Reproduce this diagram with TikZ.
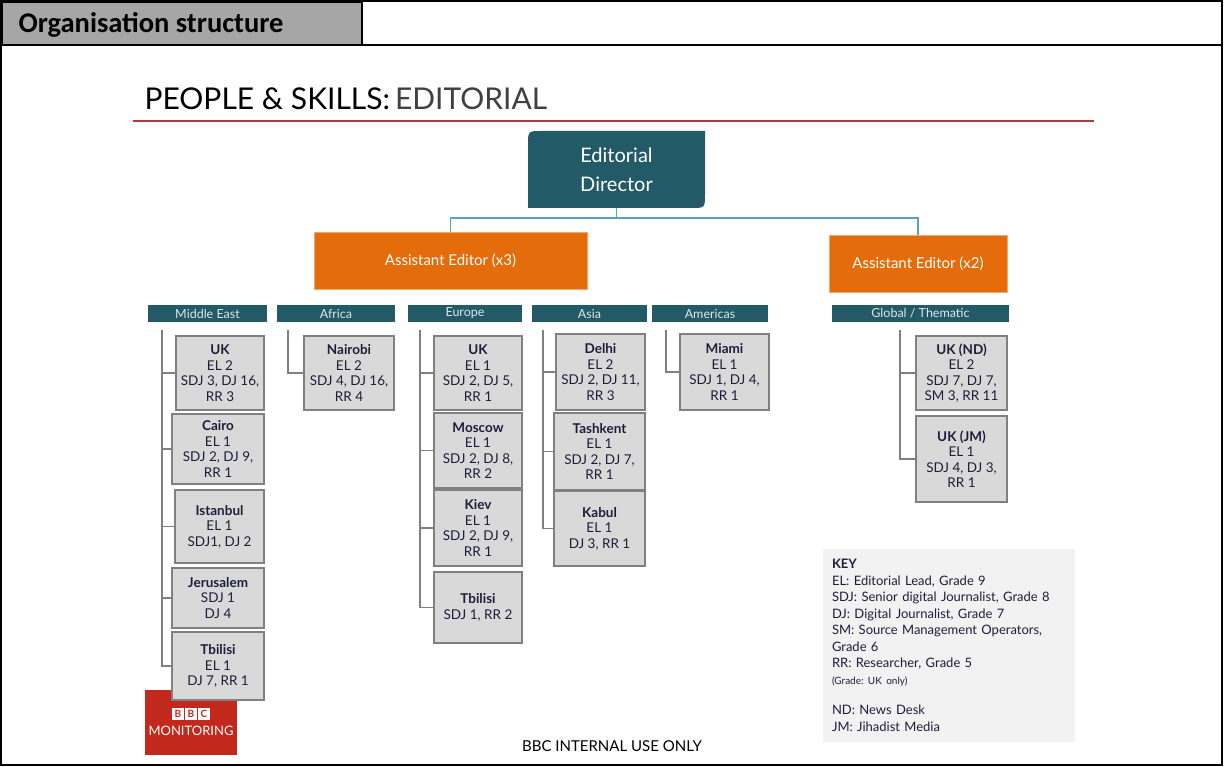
\documentclass[tikz,border=0pt]{standalone}
\usepackage{fontspec}
\setmainfont{Lato}
\newfontfamily\calibri{Carlito}
\usetikzlibrary{calc}
\frenchspacing

\definecolor{dirTeal}{HTML}{235A68}
\definecolor{linkBlue}{HTML}{5BA3BB}
\definecolor{aeOrange}{HTML}{E46C0A}
\definecolor{boxGray}{HTML}{D9D9D9}
\definecolor{boxEdge}{HTML}{808080}
\definecolor{keyGray}{HTML}{F2F2F2}
\definecolor{titleRed}{HTML}{B03A3A}
\definecolor{bbcRed}{HTML}{C2281B}
\definecolor{headGray}{HTML}{A6A6A6}
\definecolor{inkNavy}{HTML}{1E1E3A}

\begin{document}
\begin{tikzpicture}
[x=1pt,y=-1pt,
  dirDecorate/.style={minimum width=177pt,minimum height=77pt,align=center,text=white,font=\fontsize{20}{29}\selectfont},
  aeDecorate/.style={fill=aeOrange,draw=aeOrange!60,text=white,font=\fontsize{15}{18}\selectfont},
  regionDecorate/.style={fill=dirTeal,text=white!85!dirTeal,minimum height=17pt,inner sep=0pt,font=\fontsize{12.5}{14}\selectfont},
  officeDecorate/.style={fill=boxGray,draw=boxEdge,line width=1.5pt,align=center,inner sep=0pt,text=inkNavy,font=\fontsize{13.5}{15.5}\selectfont},
  linkDecorate/.style={draw=linkBlue,line width=1.6pt},
  trunkDecorate/.style={draw=boxEdge,line width=1.3pt}]

\useasboundingbox (0,0) rectangle (1224,767);

%% page frame and header row
\draw[fill=headGray,line width=1.5pt] (2,2) rectangle (362,45);
\draw[line width=1.5pt] (1,1) rectangle (1222,765);
\draw[line width=1.5pt] (1,45) -- (1222,45);
\node (heading) at (15,25) [anchor=west,font=\calibri\bfseries\fontsize{28.5}{32}\selectfont] {Organisation structure};

%% title and rule
\node (title) at (141,110) [anchor=base west,font=\fontsize{30}{34}\selectfont] {PEOPLE \& SKILLS:\,{\color{black!75}EDITORIAL}};
\draw[titleRed,line width=1.5pt] (133,121) -- (1094,121);

%% director and assistant editors
\fill[dirTeal] (528,208) -- (528,145) .. controls (528,131) .. (542,131) -- (705,131)
  -- (705,194) .. controls (705,208) .. (691,208) -- cycle;
\node (dir) at (616.5,169.5) [dirDecorate] {Editorial\\Director};
\node (aeLeft) at (450.5,260.5) [aeDecorate,minimum width=273pt,minimum height=57pt] {Assistant Editor (x3)};
\node (aeRight) at (918,263.5) [aeDecorate,minimum width=178pt,minimum height=57pt] {Assistant Editor (x2)};
\draw[linkDecorate] (dir.south) -- ++(0,10) coordinate (fork);
\draw[linkDecorate] (fork) -| (aeLeft.north);
\draw[linkDecorate] (fork) -| (aeRight.north);

%% region headers and trunk tops
\foreach \name/\x/\w/\trunk/\label in {
  mideast/207.5/119/162/Middle East, africa/336/118/288/Africa,
  europe/465/114/420/Europe, asia/589.5/115/543/Asia,
  americas/710/116/666/Americas, global/920.5/177/900/{Global / Thematic}}
{
  \node (\name) at (\x,313.5) [regionDecorate,minimum width=\w pt] {\label};
  \coordinate (\name Trunk) at (\trunk,330);
}

%% logo sits under the last office box
\node (bbcLogo) at (191,722.5) [fill=bbcRed,minimum width=92pt,minimum height=65pt] {};
\foreach \letter/\x [count=\i] in {B/178, B/191, C/204}
{
  \node (bbcBlock\i) at (\x,714) [fill=white,text=bbcRed,minimum size=12pt,inner sep=0pt,font=\bfseries\fontsize{10}{10}\selectfont] {\letter};
}
\node (bbcText) at (191,731) [text=white,font=\fontsize{13}{14}\selectfont] {MONITORING};

%% offices
\foreach \name/\trunk/\x/\y/\w/\h/\text in {
  meUK/mideast/220/373/88/74/{\textbf{UK}\\EL 2\\SDJ 3, DJ 16,\\RR 3},
  meCairo/mideast/218/449/92/70/{\textbf{Cairo}\\EL 1\\SDJ 2, DJ 9,\\RR 1},
  meIstanbul/mideast/219.5/526.5/89/73/{\textbf{Istanbul}\\EL 1\\SDJ1, DJ 2},
  meJerusalem/mideast/218/598/92/60/{\textbf{Jerusalem}\\SDJ 1\\DJ 4},
  meTbilisi/mideast/218/666/92/68/{\textbf{Tbilisi}\\EL 1\\DJ 7, RR 1},
  afNairobi/africa/349/373/90/74/{\textbf{Nairobi}\\EL 2\\SDJ 4, DJ 16,\\RR 4},
  euUK/europe/478/373/88/74/{\textbf{UK}\\EL 1\\SDJ 2, DJ 5,\\RR 1},
  euMoscow/europe/478/450.5/88/75/{\textbf{Moscow}\\EL 1\\SDJ 2, DJ 8,\\RR 2},
  euKiev/europe/478/528/88/76/{\textbf{Kiev}\\EL 1\\SDJ 2, DJ 9,\\RR 1},
  euTbilisi/europe/478/607.5/88/71/{\textbf{Tbilisi}\\SDJ 1, RR 2},
  asDelhi/asia/600.5/372/89/76/{\textbf{Delhi}\\EL 2\\SDJ 2, DJ 11,\\RR 3},
  asTashkent/asia/599.5/451.5/91/77/{\textbf{Tashkent}\\EL 1\\SDJ 2, DJ 7,\\RR 1},
  asKabul/asia/599.5/528.5/91/75/{\textbf{Kabul}\\EL 1\\DJ 3, RR 1},
  amMiami/americas/724.5/372/89/76/{\textbf{Miami}\\EL 1\\SDJ 1, DJ 4,\\RR 1},
  glND/global/961.5/373/91/74/{\textbf{UK (ND)}\\EL 2\\SDJ 7, DJ 7,\\SM 3, RR 11},
  glJM/global/961.5/459/91/86/{\textbf{UK (JM)}\\EL 1\\SDJ 4, DJ 3,\\RR 1}}
{
  \node (\name) at (\x,\y) [officeDecorate,minimum width=\w pt,minimum height=\h pt] {\text};
  \draw[trunkDecorate] (\trunk Trunk) |- (\name.west);
}

%% key and footer
\node (key) at (949,645.5) [fill=keyGray,minimum width=252pt,minimum height=193pt,text width=234pt,align=left,text=inkNavy,font=\fontsize{13}{16.5}\selectfont]
  {\textbf{KEY}\\EL: Editorial Lead, Grade 9\\SDJ: Senior digital Journalist, Grade 8\\DJ: Digital Journalist, Grade 7\\SM: Source Management  Operators,\\Grade 6\\RR: Researcher,  Grade 5\\{\fontsize{10}{12}\selectfont (Grade: UK only)}\\[14pt]ND: News Desk\\JM: Jihadist Media};
\node (internal) at (612,746) [font=\fontsize{15}{17}\selectfont] {BBC INTERNAL USE ONLY};
\end{tikzpicture}
\end{document}
